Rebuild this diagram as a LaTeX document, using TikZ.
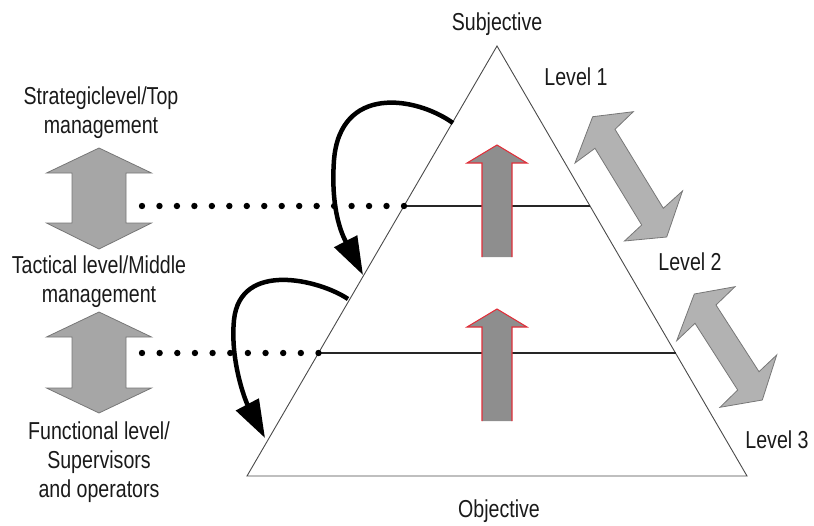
\documentclass[tikz,border=0pt]{standalone}
\usepackage{fontspec}
\setmainfont[FakeStretch=0.8]{Liberation Sans}
\usetikzlibrary{arrows.meta,calc}
\definecolor{txt}{HTML}{1A1A1A}
\definecolor{vfill}{HTML}{A6A6A6}
\definecolor{dfill}{HTML}{B2B2B2}
\definecolor{arredge}{HTML}{777777}
\definecolor{upfill}{HTML}{8E8E8E}
\definecolor{upedge}{HTML}{E0303A}
\definecolor{tri}{HTML}{4A4A4A}
\begin{document}
\begin{tikzpicture}[x=1pt,y=-1pt,
  lbl/.style={font=\fontsize{24.5}{29}\selectfont, text=txt, align=center, inner sep=0pt, anchor=base},
  vdouble/.style={fill=vfill, draw=arredge, line width=0.8pt, line join=miter},
  ddouble/.style={fill=dfill, draw=arredge, line width=0.8pt, line join=miter},
  upbody/.style={fill=upfill, draw=none},
  upline/.style={draw=upedge, line width=1.1pt, line join=miter},
  levelline/.style={draw=black!85, line width=1.2pt},
  triline/.style={draw=tri, line width=0.9pt, line join=miter},
  dotmark/.style={fill=black},
  curvearrow/.style={draw=black, line width=4.5pt, -{Triangle[length=38pt,width=25pt]}},
]
\useasboundingbox (0,0) rectangle (814,525);

% triangle and level lines
\coordinate (apex) at (497,46);
\coordinate (bl) at (247,476);
\coordinate (br) at (747,476);
\coordinate (l1) at (404,206);
\coordinate (r1) at (590,206);
\coordinate (l2) at (318.5,353);
\coordinate (r2) at (675.5,353);
\draw[triline] (apex) -- (bl) -- (br) -- cycle;
\draw[levelline] (l1) -- (r1);
\draw[levelline] (l2) -- (r2);

% dotted connectors
\coordinate (d1) at (142,206);
\coordinate (d2) at (142,353);
\foreach \i in {0,...,15} \path[dotmark] ($(d1)!\i/15!(l1)$) circle (3.2);
\foreach \i in {0,...,10} \path[dotmark] ($(d2)!\i/10!(l2)$) circle (3.2);

% red-outlined up arrows
\path[upbody] (497,145) -- (527,163) -- (512,163) -- (512,257) -- (482,257) -- (482,163) -- (467,163) -- cycle;
\draw[upline] (482,257) -- (482,163) -- (467,163) -- (497,145) -- (527,163) -- (512,163) -- (512,257);
\path[upbody] (497,309) -- (527,327) -- (512,327) -- (512,421) -- (482,421) -- (482,327) -- (467,327) -- cycle;
\draw[upline] (482,421) -- (482,327) -- (467,327) -- (497,309) -- (527,327) -- (512,327) -- (512,421);

% diagonal double arrows (right)
\draw[ddouble] (592.7,116.7) -- (633.3,111.7) -- (615,129.3) -- (663.3,208.3) -- (682.5,191) -- (666.7,237) -- (624.5,241) -- (641.7,225) -- (595,148.3) -- (575,163) -- cycle;
\draw[ddouble] (694.3,294) -- (735,286.7) -- (716,305) -- (759,371.7) -- (776.7,355) -- (762.3,400) -- (720,407.3) -- (737.7,390) -- (695,323.3) -- (676.7,340.7) -- cycle;

% vertical double arrows (left)
\draw[vdouble] (99,148) -- (151.5,173) -- (126,173) -- (126,223) -- (151.5,223) -- (99,249) -- (46.5,223) -- (72,223) -- (72,173) -- (46.5,173) -- cycle;
\draw[vdouble] (99,312) -- (151.5,337) -- (126,337) -- (126,388) -- (151.5,388) -- (99,413) -- (46.5,388) -- (72,388) -- (72,337) -- (46.5,337) -- cycle;

% curved black arrows
\coordinate (c1s) at (453,123);
\coordinate (c1e) at (363,275);
\coordinate (c2s) at (348,299);
\coordinate (c2e) at (265,438);
\draw[curvearrow] (c1s) .. controls (415,96) and (340,85) .. (334,160) .. controls (330,215) and (345,240) .. (c1e);
\draw[curvearrow] (c2s) .. controls (320,280) and (240,260) .. (234,320) .. controls (230,360) and (245,400) .. (c2e);

% labels
\node[lbl] (subj) at (497,30) {Subjective};
\node[lbl] (obj) at (499,517) {Objective};
\node[lbl] (lv1) at (576,85) {Level 1};
\node[lbl] (lv2) at (690,270) {Level 2};
\node[lbl] (lv3) at (777,448) {Level 3};
\node[lbl] (strat) at (101,133) {Strategiclevel/Top\\management};
\node[lbl] (tact) at (99,302) {Tactical level/Middle\\management};
\node[lbl] (func) at (99,497) {Functional level/\\Supervisors\\and operators};
\end{tikzpicture}
\end{document}
